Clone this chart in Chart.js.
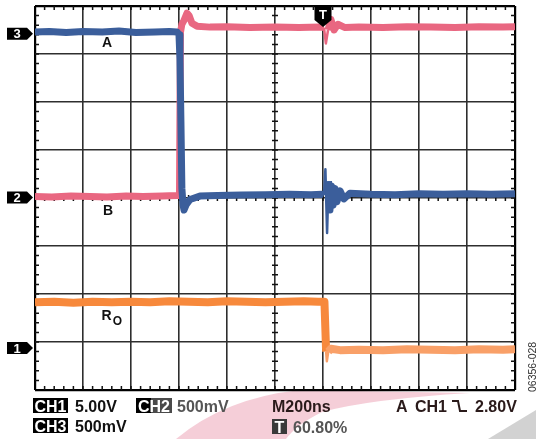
<!DOCTYPE html>
<html>
<head>
<meta charset="utf-8">
<script src="https://cdn.jsdelivr.net/npm/chart.js@4.4.1/dist/chart.umd.min.js"></script>
<style>
  body { margin: 0; background: #fff; }
  #wrap { width: 536px; height: 439px; position: relative; }
</style>
</head>
<body>
<div id="wrap"><canvas id="scope" width="536" height="439"></canvas></div>
<script>
// time in ns (200 ns/div, 10 div), level in screen divisions (0..8 from bottom)
var aTime  = [0, 60, 130, 200, 280, 350, 420, 500, 560, 592, 600, 604, 608, 612, 617, 621, 630, 646, 687, 760, 860, 960, 1060, 1150, 1196, 1204, 1210, 1217, 1223, 1229, 1235, 1242, 1250, 1258, 1271, 1287, 1312, 1400, 1500, 1600, 1700, 1800, 1900, 2000];
var aLevel = [7.46, 7.47, 7.45, 7.47, 7.46, 7.48, 7.45, 7.46, 7.47, 7.46, 7.40, 6.90, 5.60, 4.20, 3.85, 3.75, 3.86, 3.97, 4.04, 4.05, 4.06, 4.07, 4.08, 4.07, 4.08, 4.06, 4.60, 3.27, 4.35, 3.75, 4.25, 3.85, 4.20, 3.92, 4.15, 3.98, 4.10, 4.08, 4.07, 4.09, 4.08, 4.09, 4.08, 4.09];

var bTime  = [0, 70, 150, 230, 300, 380, 450, 530, 590, 602, 606, 612, 621, 633, 642, 654, 675, 729, 800, 896, 1000, 1100, 1187, 1204, 1212, 1221, 1233, 1246, 1262, 1292, 1350, 1450, 1550, 1650, 1750, 1850, 1950, 2000];
var bLevel = [4.03, 4.02, 4.04, 4.03, 4.02, 4.04, 4.03, 4.04, 4.05, 4.05, 7.45, 7.62, 7.70, 7.85, 7.80, 7.64, 7.58, 7.56, 7.57, 7.55, 7.56, 7.55, 7.56, 7.55, 7.22, 7.50, 7.72, 7.50, 7.62, 7.55, 7.56, 7.55, 7.57, 7.56, 7.55, 7.57, 7.56, 7.57];

var roTime  = [0, 80, 160, 240, 320, 400, 480, 560, 640, 720, 800, 880, 960, 1040, 1120, 1180, 1206, 1213, 1216, 1222, 1233, 1271, 1350, 1450, 1550, 1650, 1750, 1850, 1950, 2000];
var roLevel = [1.83, 1.84, 1.82, 1.84, 1.83, 1.84, 1.83, 1.85, 1.84, 1.83, 1.85, 1.84, 1.83, 1.84, 1.85, 1.84, 1.84, 0.80, 0.60, 0.80, 0.86, 0.83, 0.84, 0.83, 0.85, 0.84, 0.83, 0.85, 0.84, 0.85];

var channelNames  = ['3', '2', '1'];
var channelLevels = [7.42, 4.01, 0.875];
var triggerTime = 1200;

function pts(t, v) {
  return t.map(function (x, i) { return { x: x, y: v[i] }; });
}

var FONT = '"Liberation Sans", Arial, sans-serif';

function marker(c, x0, cy, label) {
  c.fillStyle = '#000';
  c.beginPath();
  c.moveTo(x0, cy - 6);
  c.lineTo(x0 + 20, cy - 6);
  c.lineTo(x0 + 26, cy);
  c.lineTo(x0 + 20, cy + 6);
  c.lineTo(x0, cy + 6);
  c.closePath();
  c.fill();
  c.fillStyle = '#fff';
  c.font = 'bold 13px ' + FONT;
  c.textAlign = 'center';
  c.textBaseline = 'middle';
  c.fillText(label, x0 + 10, cy + 1);
}

function box(c, x, y, w, h, fill, text, textColor) {
  c.fillStyle = fill;
  c.fillRect(x, y, w, h);
  c.fillStyle = textColor || '#fff';
  c.textAlign = 'center';
  c.textBaseline = 'alphabetic';
  c.fillText(text, x + w / 2, y + h - 1.5);
}

// thin strokes for the fast spikes around the trigger
function spikeWidth(lo, hi) {
  return function (s) {
    return (s.p0.parsed.x >= lo && s.p0.parsed.x < hi) ? 2.5 : undefined;
  };
}

var scopeMarks = {
  id: 'scopeMarks',
  beforeDraw: function (chart) {
    var c = chart.ctx;
    c.save();
    c.fillStyle = '#fff';
    c.fillRect(0, 0, chart.width, chart.height);
    // faded logo remnants under the readout
    c.fillStyle = 'rgba(226, 120, 146, 0.36)';
    c.beginPath();
    c.moveTo(176, 439);
    c.quadraticCurveTo(225, 398, 300, 390);
    c.lineTo(470, 393);
    c.quadraticCurveTo(370, 399, 322, 412);
    c.quadraticCurveTo(296, 425, 286, 439);
    c.closePath();
    c.fill();
    c.fillStyle = '#d2d2d2';
    c.beginPath();
    c.moveTo(488, 439);
    c.lineTo(536, 410);
    c.lineTo(536, 439);
    c.closePath();
    c.fill();
    c.restore();
  },
  beforeDatasetsDraw: function (chart) {
    var c = chart.ctx, a = chart.chartArea;
    var xs = chart.scales.x, ys = chart.scales.y;
    var cx = xs.getPixelForValue(1000), cy = ys.getPixelForValue(4);
    c.save();
    c.strokeStyle = '#111';
    c.lineWidth = 1.5;
    c.beginPath();
    for (var t = 40; t < 2000; t += 40) {
      var px = xs.getPixelForValue(t);
      c.moveTo(px, a.top); c.lineTo(px, a.top + 4);
      c.moveTo(px, a.bottom); c.lineTo(px, a.bottom - 4);
      c.moveTo(px, cy - 3); c.lineTo(px, cy + 3);
    }
    for (var v = 0.2; v < 8; v += 0.2) {
      var py = ys.getPixelForValue(v);
      c.moveTo(a.left, py); c.lineTo(a.left + 4, py);
      c.moveTo(a.right, py); c.lineTo(a.right - 4, py);
      c.moveTo(cx - 3, py); c.lineTo(cx + 3, py);
    }
    c.stroke();
    c.restore();
  },
  afterDraw: function (chart) {
    var c = chart.ctx, a = chart.chartArea;
    var xs = chart.scales.x, ys = chart.scales.y;
    c.save();
    // channel ground markers
    channelNames.forEach(function (n, i) {
      marker(c, 7, ys.getPixelForValue(channelLevels[i]), n);
    });
    // trigger position marker
    var tx = xs.getPixelForValue(triggerTime);
    c.fillStyle = '#000';
    c.beginPath();
    c.moveTo(tx - 8.5, a.top);
    c.lineTo(tx + 8.5, a.top);
    c.lineTo(tx + 8.5, a.top + 14);
    c.lineTo(tx, a.top + 21);
    c.lineTo(tx - 8.5, a.top + 14);
    c.closePath();
    c.fill();
    c.fillStyle = '#fff';
    c.font = 'bold 13px ' + FONT;
    c.textAlign = 'center';
    c.textBaseline = 'middle';
    c.fillText('T', tx, a.top + 9);

    // trace labels
    c.fillStyle = '#111';
    c.font = 'bold 14px ' + FONT;
    c.fillText('A', xs.getPixelForValue(300), ys.getPixelForValue(7.23));
    c.fillText('B', xs.getPixelForValue(304), ys.getPixelForValue(3.73));
    c.fillText('R', xs.getPixelForValue(298), ys.getPixelForValue(1.54));
    c.font = 'bold 12px ' + FONT;
    c.fillText('O', xs.getPixelForValue(343), ys.getPixelForValue(1.43));

    // readout
    c.font = 'bold 16px ' + FONT;
    box(c, 33, 398, 35, 15, '#000', 'CH1');
    box(c, 33, 418, 35, 15, '#000', 'CH3');
    c.fillStyle = '#000';
    c.fillRect(136, 398, 15, 15);
    c.fillStyle = '#4a4a4a';
    c.fillRect(151, 398, 21, 15);
    c.fillStyle = '#fff';
    c.textAlign = 'center';
    c.textBaseline = 'alphabetic';
    c.fillText('CH2', 154, 411.5);
    box(c, 272, 419, 15, 15, '#3a3a3a', 'T');

    c.textAlign = 'left';
    c.fillStyle = '#111';
    c.fillText('5.00V', 75, 412);
    c.fillText('500mV', 75, 432);
    c.fillStyle = '#555';
    c.fillText('500mV', 177, 412);
    c.fillStyle = '#2a1a1a';
    c.fillText('M200ns', 272, 412);
    c.fillText('A', 396, 412);
    c.fillText('CH1', 415, 412);
    c.fillText('2.80V', 475, 412);
    c.fillStyle = '#555';
    c.fillText('60.80%', 293, 433);
    // falling edge symbol
    c.strokeStyle = '#2a1a1a';
    c.lineWidth = 2;
    c.beginPath();
    c.moveTo(452, 401);
    c.lineTo(458, 401);
    c.lineTo(460, 411);
    c.lineTo(467, 411);
    c.stroke();

    // figure number
    c.translate(533, 392);
    c.rotate(-Math.PI / 2);
    c.fillStyle = '#333';
    c.font = '10.5px ' + FONT;
    c.textAlign = 'left';
    c.textBaseline = 'middle';
    c.fillText('06356-028', 0, 0);
    c.restore();
  }
};

function edgeWidth(ctx) {
  var n = ctx.chart.scales[ctx.scale.id].ticks.length;
  return (ctx.index === 0 || ctx.index === n - 1) ? 2.2 : 1.6;
}
function edgeColor(ctx) {
  var n = ctx.chart.scales[ctx.scale.id].ticks.length;
  return (ctx.index === 0 || ctx.index === n - 1) ? '#000' : '#2e2e2e';
}

var ctx = document.getElementById('scope').getContext('2d');
var scopeChart = new Chart(ctx, {
  type: 'line',
  data: {
    datasets: [{
      label: 'A',
      data: pts(aTime, aLevel),
      borderColor: '#3b5e9b',
      borderWidth: 7,
      segment: { borderWidth: spikeWidth(1204, 1223) }
    }, {
      label: 'B',
      data: pts(bTime, bLevel),
      borderColor: '#e96781',
      borderWidth: 7,
      segment: { borderWidth: spikeWidth(1204, 1221) }
    }, {
      label: 'RO',
      data: pts(roTime, roLevel),
      borderColor: '#f7893c',
      borderWidth: 8,
      segment: {
        borderColor: function (s) { return s.p0.parsed.x >= 1213 ? '#f9a068' : undefined; },
        borderWidth: spikeWidth(1213, 1222)
      }
    }]
  },
  options: {
    responsive: false,
    animation: false,
    layout: { padding: { left: 35, top: 6, right: 21, bottom: 49 } },
    elements: {
      point: { radius: 0 },
      line: { tension: 0, borderJoinStyle: 'round', borderCapStyle: 'butt' }
    },
    plugins: {
      legend: { display: false },
      tooltip: { enabled: false }
    },
    scales: {
      x: {
        type: 'linear',
        min: 0,
        max: 2000,
        ticks: { display: false, stepSize: 200 },
        grid: { drawTicks: false, color: edgeColor, lineWidth: edgeWidth },
        border: { display: false }
      },
      y: {
        type: 'linear',
        min: 0,
        max: 8,
        ticks: { display: false, stepSize: 1 },
        grid: { drawTicks: false, color: edgeColor, lineWidth: edgeWidth },
        border: { display: false }
      }
    }
  },
  plugins: [scopeMarks]
});
</script>
</body>
</html>
